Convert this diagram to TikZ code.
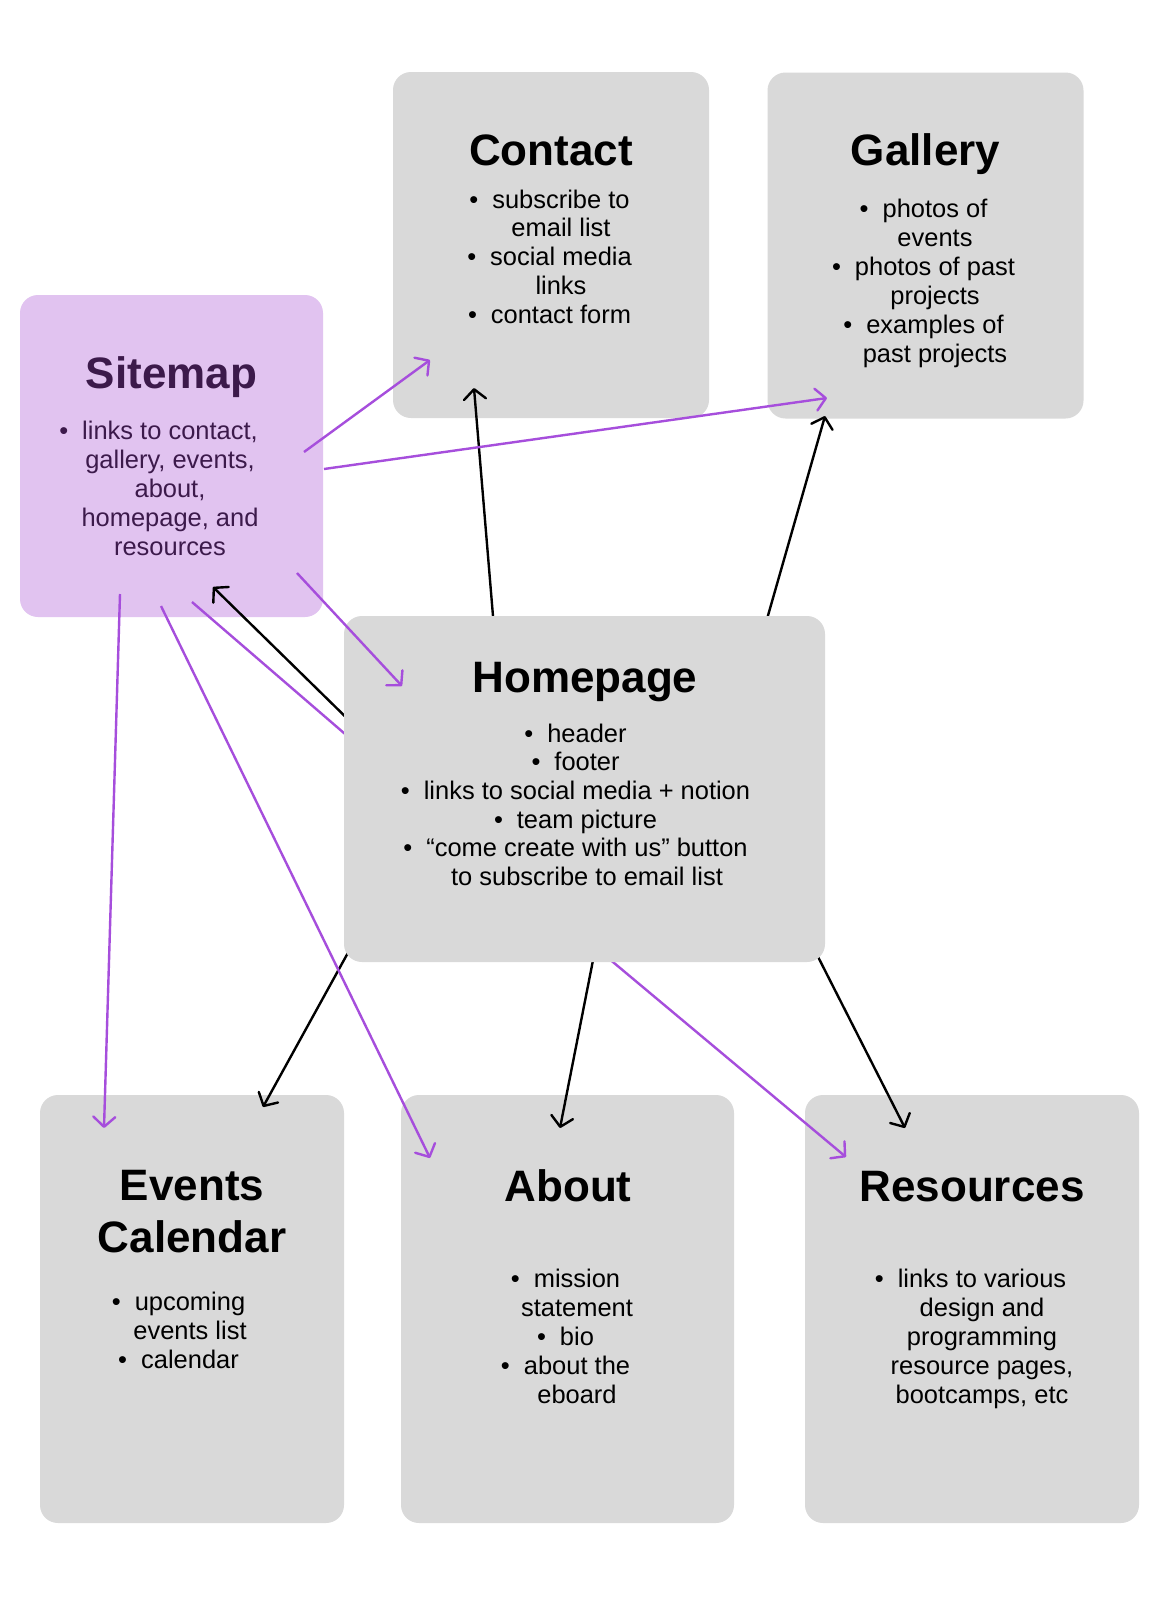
\documentclass[tikz,border=0pt]{standalone}
\usepackage{fontspec}
\setmainfont{Liberation Sans}
\usetikzlibrary{arrows.meta}
\definecolor{boxgray}{HTML}{D9D9D9}
\definecolor{smfill}{HTML}{E1C3F0}
\definecolor{smtext}{HTML}{3C1A4B}
\definecolor{plink}{HTML}{A64EDC}
\newcommand\bul{\llap{\textbullet\hspace{10.5pt}}}
\begin{document}
\begin{tikzpicture}[x=0.75pt,y=-0.75pt,
  card/.style={draw=none, fill=boxgray, rounded corners=13.5pt, inner sep=0pt},
  body/.style={anchor=base, inner sep=0pt, font=\fontsize{19.1pt}{23pt}\selectfont},
  ttl/.style={anchor=base, inner sep=0pt, font=\fontsize{33pt}{40pt}\selectfont\bfseries},
  link/.style={line width=1.8pt, -{Straight Barb[length=7.5pt,width=16.5pt,round]}},
  plk/.style={link, draw=plink},
  blk/.style={link, draw=black},
  plain/.style={line width=1.8pt, draw=plink}
]
\useasboundingbox[fill=white] (0,0) rectangle (1169,1597);

% ---------- cards (all but homepage) ----------
\node[card, fill=smfill, minimum width=227.25pt, minimum height=241.5pt] (sitemap) at (171.5,456) {};
\node[card, minimum width=237pt, minimum height=259.5pt] (contact) at (551,245) {};
\node[card, minimum width=237pt, minimum height=259.5pt] (gallery) at (925.5,245.5) {};
\node[card, minimum width=228pt, minimum height=321pt] (events) at (192,1309) {};
\node[card, minimum width=249.75pt, minimum height=321pt] (about) at (567.5,1309) {};
\node[card, minimum width=250.5pt, minimum height=321pt] (resources) at (972,1309) {};

% ---------- sitemap text ----------
\begin{scope}[every node/.append style={text=smtext}]
\node[ttl] (sm-t) at (171.5,388) {Sitemap};
\node[body] (sm-1) at (170,439) {\bul links to contact,};
\node[body] (sm-2) at (170,468) {gallery, events,};
\node[body] (sm-3) at (170,497) {about,};
\node[body] (sm-4) at (170,526) {homepage, and};
\node[body] (sm-5) at (170,555) {resources};
\end{scope}

% ---------- contact text ----------
\node[ttl] (co-t) at (551,165) {Contact};
\node[body] (co-1) at (561,208) {\bul subscribe to};
\node[body] (co-2) at (561,236.8) {email list};
\node[body] (co-3) at (561,265.6) {\bul social media};
\node[body] (co-4) at (561,294.4) {links};
\node[body] (co-5) at (561,323.2) {\bul contact form};

% ---------- gallery text ----------
\node[ttl] (ga-t) at (925.5,165) {Gallery};
\node[body] (ga-1) at (935,217) {\bul photos of};
\node[body] (ga-2) at (935,246) {events};
\node[body] (ga-3) at (935,275) {\bul photos of past};
\node[body] (ga-4) at (935,304) {projects};
\node[body] (ga-5) at (935,333) {\bul examples of};
\node[body] (ga-6) at (935,362) {past projects};

% ---------- events text ----------
\node[ttl] (ev-t1) at (192,1200) {Events};
\node[ttl] (ev-t2) at (192,1252) {Calendar};
\node[body] (ev-1) at (190,1310) {\bul upcoming};
\node[body] (ev-2) at (190,1339) {events list};
\node[body] (ev-3) at (190,1368) {\bul calendar};

% ---------- about text ----------
\node[ttl] (ab-t) at (568,1201) {About};
\node[body] (ab-1) at (577,1287) {\bul mission};
\node[body] (ab-2) at (577,1316) {statement};
\node[body] (ab-3) at (577,1345) {\bul bio};
\node[body] (ab-4) at (577,1374) {\bul about the};
\node[body] (ab-5) at (577,1403) {eboard};

% ---------- resources text ----------
\node[ttl] (re-t) at (972,1201) {Resources};
\node[body] (re-1) at (982,1287) {\bul links to various};
\node[body] (re-2) at (982,1316) {design and};
\node[body] (re-3) at (982,1345) {programming};
\node[body] (re-4) at (982,1374) {resource pages,};
\node[body] (re-5) at (982,1403) {bootcamps, etc};

% ---------- connector end points ----------
\coordinate (hc0) at (495,640);   \coordinate (hc1) at (474,388);
\coordinate (hg0) at (761,640);   \coordinate (hg1) at (825,416);
\coordinate (hs0) at (359,730);   \coordinate (hs1) at (213,587);
\coordinate (sh0) at (192,602);   \coordinate (sh1) at (359,746);
\coordinate (he0) at (355,940);   \coordinate (he1) at (263,1107);
\coordinate (ha0) at (596,945);   \coordinate (ha1) at (560,1128);
\coordinate (hrp0) at (595,947);  \coordinate (hrp1) at (846,1157);
\coordinate (hrb0) at (810,941);  \coordinate (hrb1) at (905,1128);
\coordinate (sc0) at (304,452);   \coordinate (sc1) at (430,360);
\coordinate (sg0) at (324,469);   \coordinate (sg1) at (827,398);
\coordinate (shp0) at (297,573);  \coordinate (shp1) at (402,686);
\coordinate (se0) at (120,594);   \coordinate (se1) at (104,1128);
\coordinate (sa0) at (161,606);   \coordinate (sa1) at (430,1158);

% ---------- connectors under the homepage card ----------
\draw[blk] (hc0) -- (hc1);
\draw[blk] (hg0) -- (hg1);
\draw[blk] (hs0) -- (hs1);
\draw[plain] (sh0) -- (sh1);
\draw[blk] (he0) -- (he1);
\draw[blk] (ha0) -- (ha1);
\draw[plk] (hrp0) -- (hrp1);
\draw[blk] (hrb0) -- (hrb1);

% ---------- homepage card ----------
\node[card, minimum width=360.75pt, minimum height=259.5pt] (homepage) at (584.5,789) {};
\node[ttl] (hp-t) at (585,692) {Homepage};
\node[body] (hp-1) at (587,742) {\bul header};
\node[body] (hp-2) at (587,770.7) {\bul footer};
\node[body] (hp-3) at (587,799.4) {\bul links to social media + notion};
\node[body] (hp-4) at (587,828.1) {\bul team picture};
\node[body] (hp-5) at (587,856.8) {\bul “come create with us” button};
\node[body] (hp-6) at (587,885.5) {to subscribe to email list};

% ---------- connectors over everything ----------
\draw[plk] (sc0) -- (sc1);
\draw[plk] (sg0) -- (sg1);
\draw[plk] (shp0) -- (shp1);
\draw[plk] (se0) -- (se1);
\draw[plk] (sa0) -- (sa1);
\end{tikzpicture}
\end{document}
